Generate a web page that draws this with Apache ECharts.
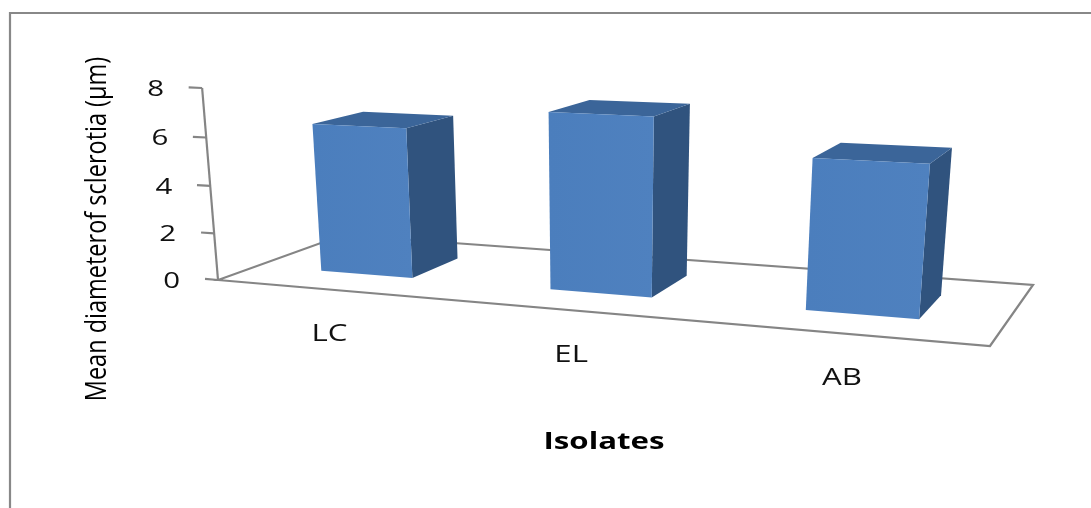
<!DOCTYPE html>
<html>
<head>
<meta charset="utf-8">
<script src="https://cdn.jsdelivr.net/npm/echarts@6/dist/echarts.min.js"></script>
<style>
  html, body { margin: 0; padding: 0; background: #ffffff; }
  #chart { width: 1091px; height: 508px; }
</style>
</head>
<body>
<div id="chart"></div>
<script>
// Isolates and their mean sclerotia diameter (µm)
const categories = ['LC', 'EL', 'AB'];
const diameters = [6.3, 7.2, 5.9];
const yTicks = [0, 2, 4, 6, 8];

// Perspective frame of the 3-D plot: floor corners on screen, and the point
// where vertical edges converge. Axis top sits above the front-left corner.
const FLOOR_FL = [218, 280];
const FLOOR_FR = [990, 346];
const FLOOR_BR = [1033, 285];
const FLOOR_BL = [343, 235];
const AXIS_TOP_Y = 88;
const VERT_VANISH = [600, 4900];

const BAR_HALF = 0.205;        // half bar width/depth, in category units
const FONT = "'Open Sans', 'DejaVu Sans', sans-serif";
const LINE_COLOR = '#858585';
const LINE_WIDTH = 2.2;

// Projective map: (u along categories 0..1, v depth 0..1, t height 0..1) -> screen
function buildProjection() {
  const [x0, y0] = FLOOR_FL, [x1, y1] = FLOOR_FR, [x2, y2] = FLOOR_BR, [x3, y3] = FLOOR_BL;
  const dx1 = x1 - x2, dx2 = x3 - x2, dx3 = x0 - x1 + x2 - x3;
  const dy1 = y1 - y2, dy2 = y3 - y2, dy3 = y0 - y1 + y2 - y3;
  const den = dx1 * dy2 - dx2 * dy1;
  const g = (dx3 * dy2 - dx2 * dy3) / den;
  const hh = (dx1 * dy3 - dx3 * dy1) / den;
  const a = x1 - x0 + g * x1, b = x3 - x0 + hh * x3, c = x0;
  const d = y1 - y0 + g * y1, e = y3 - y0 + hh * y3, f = y0;
  const k = (AXIS_TOP_Y - y0) / (VERT_VANISH[1] - AXIS_TOP_Y);
  const px = k * VERT_VANISH[0], py = k * VERT_VANISH[1];
  return function (u, v, t) {
    const X = a * u + b * v + c + t * px;
    const Y = d * u + e * v + f + t * py;
    const W = g * u + hh * v + 1 + t * k;
    return [X / W, Y / W];
  };
}
const project = buildProjection();
const nCat = categories.length;
// world: X in category units (0..nCat), Z depth (0..1), T fraction of axis height
const P = (X, Z, T) => project(X / nCat, Z, T);

// Convert a data point to world X / height fraction through the hidden axes
function toWorld(api, catIndex, value) {
  const origin = api.coord([0, 0]);
  const pt = api.coord([catIndex, value]);
  const topY = api.coord([0, yTicks[yTicks.length - 1]])[1];
  const band = api.size([1, 0])[0];
  return {
    X: (pt[0] - origin[0]) / band + 0.5,
    T: (origin[1] - pt[1]) / (origin[1] - topY)
  };
}

function renderFrame(params, api) {
  const floor = [P(0, 0, 0), P(nCat, 0, 0), P(nCat, 1, 0), P(0, 1, 0)];
  const base = P(0, 0, 0), top = P(0, 0, 1);
  return {
    type: 'group',
    children: [
      { type: 'polygon', shape: { points: floor },
        style: { fill: 'none', stroke: LINE_COLOR, lineWidth: LINE_WIDTH, lineJoin: 'miter' } },
      { type: 'line', shape: { x1: base[0], y1: base[1], x2: top[0], y2: top[1] },
        style: { stroke: LINE_COLOR, lineWidth: LINE_WIDTH } }
    ]
  };
}

function renderTick(params, api) {
  const w = toWorld(api, 0, api.value(1));
  const inner = P(0, 0, w.T);
  const outer = P(-0.06, 0, w.T);
  return {
    type: 'group',
    children: [
      { type: 'line', shape: { x1: outer[0], y1: outer[1], x2: inner[0], y2: inner[1] },
        style: { stroke: LINE_COLOR, lineWidth: LINE_WIDTH } },
      { type: 'text', x: inner[0] - 38, y: inner[1] + 2, scaleX: 1.4,
        style: { text: String(api.value(1)), fontFamily: FONT, fontSize: 21,
                 fill: '#111111', align: 'right', verticalAlign: 'middle' } }
    ]
  };
}

function renderBar(params, api) {
  const i = api.value(0);
  const w = toWorld(api, i, api.value(1));
  const x0 = w.X - BAR_HALF, x1 = w.X + BAR_HALF;
  const z0 = 0.5 - BAR_HALF, z1 = 0.5 + BAR_HALF;
  const t = w.T;
  const front = [P(x0, z0, 0), P(x1, z0, 0), P(x1, z0, t), P(x0, z0, t)];
  const side = [P(x1, z0, 0), P(x1, z1, 0), P(x1, z1, t), P(x1, z0, t)];
  const top = [P(x0, z0, t), P(x1, z0, t), P(x1, z1, t), P(x0, z1, t)];
  const labelAnchor = P(w.X, 0, 0);
  return {
    type: 'group',
    children: [
      { type: 'polygon', shape: { points: side }, style: { fill: '#30537e' } },
      { type: 'polygon', shape: { points: top }, style: { fill: '#3b6599' } },
      { type: 'polygon', shape: { points: front },
        style: { fill: new echarts.graphic.LinearGradient(0, 0, 1, 0, [
          { offset: 0, color: '#4b7ebd' }, { offset: 1, color: '#4f81bf' }]) } },
      { type: 'text', x: labelAnchor[0], y: labelAnchor[1] + 45, scaleX: 1.3,
        style: { text: categories[i], fontFamily: FONT, fontSize: 24,
                 fill: '#111111', align: 'center', verticalAlign: 'middle' } }
    ]
  };
}

const chart = echarts.init(document.getElementById('chart'), null, { renderer: 'canvas' });
chart.setOption({
  animation: false,
  backgroundColor: '#ffffff',
  grid: { left: 100, top: 60, width: 600, height: 300, show: false },
  xAxis: { type: 'category', data: categories, show: false },
  yAxis: { type: 'value', min: 0, max: 8, interval: 2, show: false },
  graphic: [
    { type: 'rect', shape: { x: 10, y: 13, width: 1200, height: 600 },
      style: { fill: 'none', stroke: '#888888', lineWidth: 2.2 }, z: 0 },
    { type: 'text', x: 98, y: 229, rotation: Math.PI / 2, scaleY: 1.25,
      style: { text: 'Mean diameterof sclerotia (µm)', fontFamily: FONT, fontSize: 23.5,
               fill: '#000000', align: 'center', verticalAlign: 'middle' } },
    { type: 'text', x: 604, y: 442, scaleX: 1.3,
      style: { text: 'Isolates', fontFamily: FONT, fontSize: 24, fontWeight: 'bold',
               fill: '#000000', align: 'center', verticalAlign: 'middle' } }
  ],
  series: [
    { type: 'custom', name: 'frame', clip: false, z: 1,
      data: [[0, yTicks[yTicks.length - 1]]], renderItem: renderFrame },
    { type: 'custom', name: 'ticks', clip: false, z: 2,
      data: yTicks.map(t => [0, t]), renderItem: renderTick },
    { type: 'custom', name: 'Mean diameter', clip: false, z: 3,
      data: categories.map((c, i) => [i, diameters[i]]), renderItem: renderBar }
  ]
});
</script>
</body>
</html>
